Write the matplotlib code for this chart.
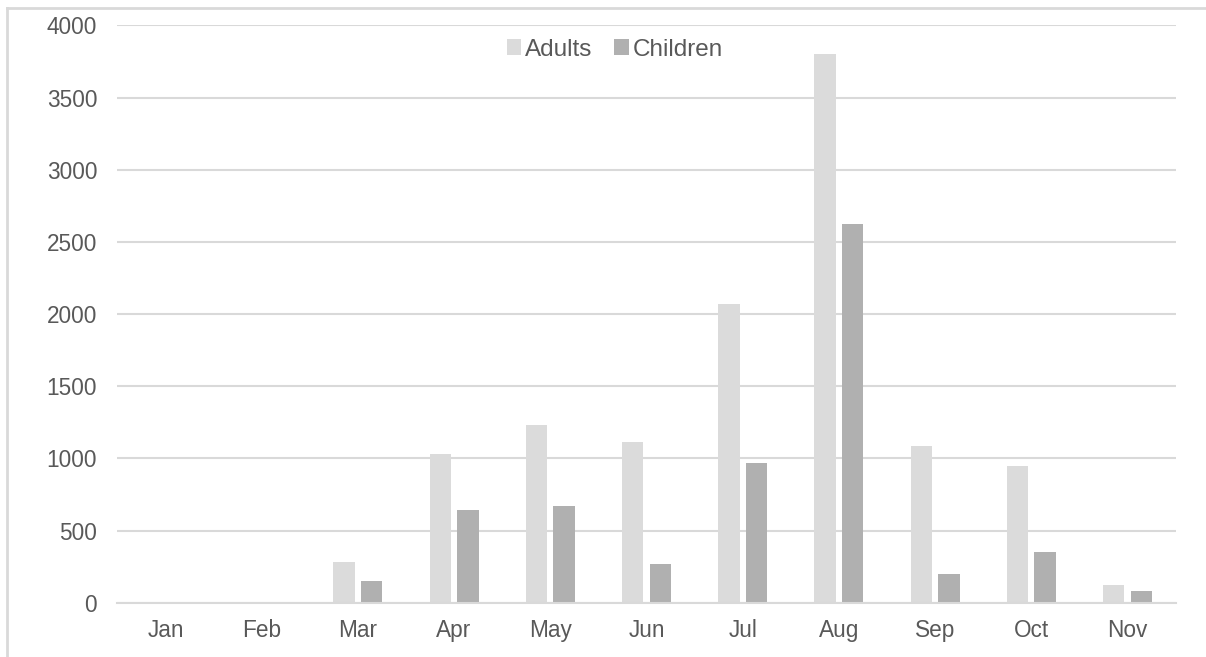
import matplotlib
matplotlib.use("Agg")
import matplotlib.pyplot as plt
import numpy as np
from matplotlib.lines import Line2D

months = ["Jan", "Feb", "Mar", "Apr", "May", "Jun", "Jul", "Aug", "Sep", "Oct", "Nov"]
adults = [0, 0, 284, 1028, 1233, 1112, 2070, 3805, 1086, 947, 123]
children = [0, 0, 148, 644, 672, 266, 970, 2626, 199, 351, 79]
y_ticks = [0, 500, 1000, 1500, 2000, 2500, 3000, 3500, 4000]

plt.rcParams["font.family"] = ["Liberation Sans", "DejaVu Sans"]

TEXT = "#595959"
GRID = "#D9D9D9"
C_ADULT = "#DBDBDB"
C_CHILD = "#B0B0B0"

fig = plt.figure(figsize=(12.06, 6.57), dpi=100)
ax = fig.add_axes([0.0973, 0.0827, 0.8775, 0.8785])

x = np.arange(len(months))
w = 0.223
off = 0.1435
ax.bar(x - off, adults, width=w, color=C_ADULT, label="Adults", zorder=3)
ax.bar(x + off, children, width=w, color=C_CHILD, label="Children", zorder=3)

ax.set_xlim(-0.5, len(months) - 0.5)
ax.set_ylim(0, 4000)
ax.set_yticks(y_ticks)
ax.set_xticks(x)
ax.set_xticklabels(months)

ax.yaxis.grid(True, color=GRID, linewidth=1.5, zorder=0)
ax.set_axisbelow(True)
for side in ["left", "right", "top"]:
    ax.spines[side].set_visible(False)
ax.spines["bottom"].set_color(GRID)
ax.spines["bottom"].set_linewidth(1.5)
ax.spines["bottom"].set_zorder(4)

ax.tick_params(axis="both", length=0, colors=TEXT, labelsize=16.3)
ax.tick_params(axis="y", pad=14.5)
ax.tick_params(axis="x", pad=12)

leg = ax.legend(loc="center", bbox_to_anchor=(0.47, 0.958), ncol=2, frameon=False,
                fontsize=17.5, handlelength=0.6, handleheight=0.6, handletextpad=0.15,
                columnspacing=0.9, borderaxespad=0.0, labelcolor=TEXT)

# outer chart frame
fig.add_artist(Line2D([7 / 1206, 7 / 1206], [0, 1 - 8 / 657], transform=fig.transFigure,
                      color=GRID, linewidth=2))
fig.add_artist(Line2D([7 / 1206, 1], [1 - 8 / 657, 1 - 8 / 657], transform=fig.transFigure,
                      color=GRID, linewidth=2))

fig.savefig("out.png", dpi=100, facecolor="white")
